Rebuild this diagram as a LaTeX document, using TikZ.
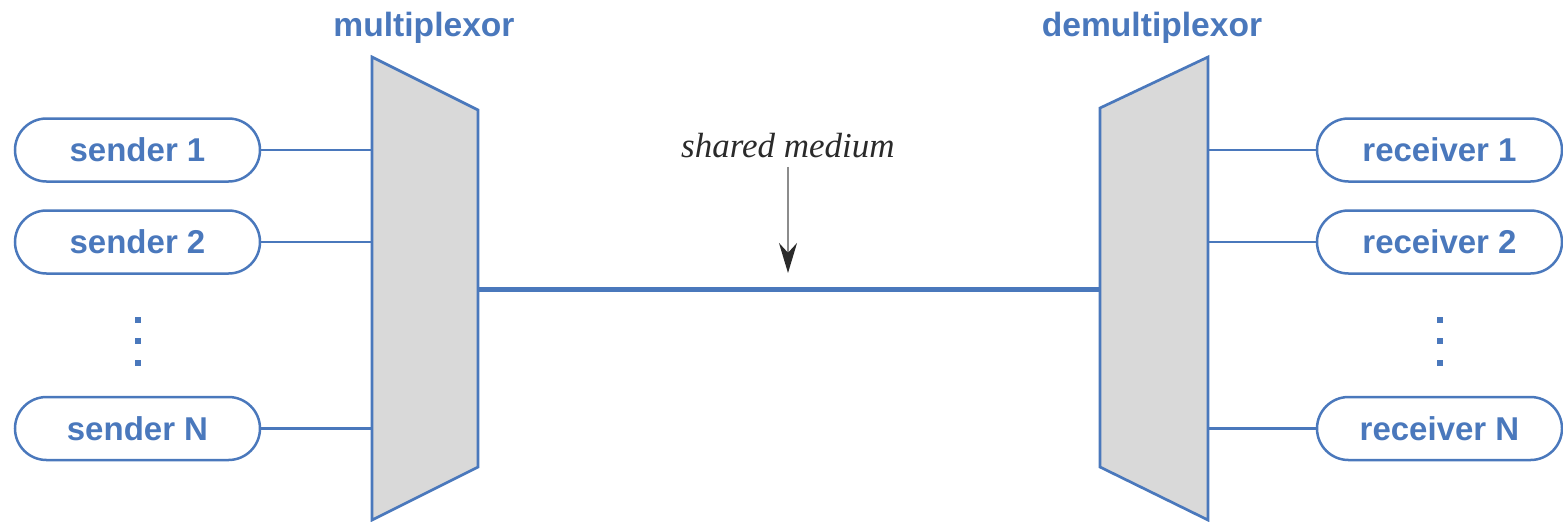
\documentclass[tikz,border=0pt]{standalone}
\usepackage{fontspec}
\setmainfont{Liberation Sans}
\newfontfamily\serifit{Liberation Serif}
\usetikzlibrary{arrows.meta}
\definecolor{netblue}{HTML}{4A78BC}
\definecolor{muxgray}{HTML}{D9D9D9}
\definecolor{inkgray}{HTML}{2A2A2A}

\begin{document}
\begin{tikzpicture}[x=0.5pt,y=-0.5pt,
  endpoint/.style={draw=netblue, line width=1.25pt, rounded corners=15.75pt,
    minimum width=122.5pt, minimum height=31.5pt, inner sep=0pt,
    text=netblue, font=\bfseries\fontsize{16.5}{20}\selectfont},
  muxshape/.style={draw=netblue, fill=muxgray, line width=1.35pt, line join=miter},
  tap/.style={draw=netblue, line width=1.4pt},
  medium/.style={draw=netblue, line width=2.5pt},
  title/.style={text=netblue, inner sep=0pt, font=\bfseries\fontsize{16.8}{20}\selectfont},
  note/.style={text=inkgray, inner sep=0pt, font=\serifit\itshape\fontsize{17.5}{20}\selectfont},
  pointer/.style={draw=black!45, line width=1pt, -{Stealth[length=15pt,width=9pt,color=inkgray]}},
  dot/.style={fill=netblue}
]
\useasboundingbox (0,0) rectangle (1563,521);

% multiplexor and demultiplexor bodies
\coordinate (muxTL) at (372,57);
\coordinate (muxTR) at (478,110);
\coordinate (muxBR) at (478,467);
\coordinate (muxBL) at (372,520);
\draw[muxshape] (muxTL) -- (muxTR) -- (muxBR) -- (muxBL) -- cycle;

\coordinate (dmxTL) at (1100,108);
\coordinate (dmxTR) at (1208,57);
\coordinate (dmxBR) at (1208,520);
\coordinate (dmxBL) at (1100,467);
\draw[muxshape] (dmxTL) -- (dmxTR) -- (dmxBR) -- (dmxBL) -- cycle;

\node[title] (muxlabel) at (424,28) {multiplexor};
\node[title] (dmxlabel) at (1152,28) {demultiplexor};

% senders
\node[endpoint] (s1) at (137.5,150) {sender 1};
\node[endpoint] (s2) at (137.5,242) {sender 2};
\node[endpoint] (sN) at (137.5,428.5) {sender N};

% receivers
\node[endpoint] (r1) at (1439.5,150) {receiver 1};
\node[endpoint] (r2) at (1439.5,242) {receiver 2};
\node[endpoint] (rN) at (1439.5,428.5) {receiver N};

% attachment points on the mux / demux edges
\coordinate (m1) at (372,150);
\coordinate (m2) at (372,242);
\coordinate (mN) at (372,428.5);
\coordinate (d1) at (1208,150);
\coordinate (d2) at (1208,242);
\coordinate (dN) at (1208,428.5);
\coordinate (muxout) at (478,289);
\coordinate (dmxin) at (1100,289);

\draw[tap] (s1) -- (m1);
\draw[tap] (s2) -- (m2);
\draw[tap] (sN) -- (mN);
\draw[tap] (d1) -- (r1);
\draw[tap] (d2) -- (r2);
\draw[tap] (dN) -- (rN);

% shared medium
\draw[medium] (muxout) -- (dmxin);

\node[note] (sm) at (788,146) {shared medium};
\coordinate (smtip) at (788,273);
\draw[pointer] ([yshift=-4pt]sm.south) -- (smtip);

% vertical ellipses
\foreach \yy in {320,341,363} {
  \fill[dot] (134.5,\yy-3) rectangle (140.5,\yy+3);
  \fill[dot] (1436.5,\yy-3) rectangle (1442.5,\yy+3);
}
\end{tikzpicture}
\end{document}
